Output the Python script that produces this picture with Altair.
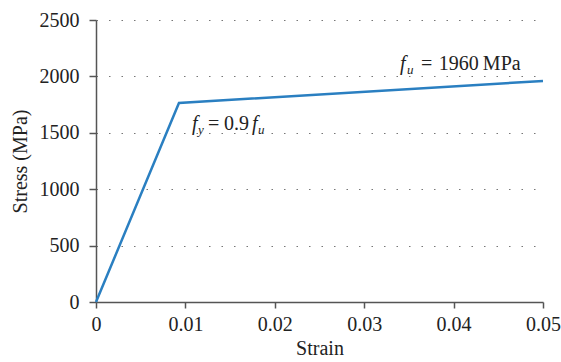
import altair as alt
import pandas as pd

# Bilinear stress-strain curve
strain = [0.0, 0.00928, 0.05]
stress = [0.0, 1764.0, 1960.0]

y_ticks = [0, 500, 1000, 1500, 2000, 2500]
x_ticks = [0, 0.01, 0.02, 0.03, 0.04, 0.05]

# Annotation pieces (text, strain, stress, kind)
ann_text = ["f", "y", "=", "0.9", "f", "u",
            "f", "u", "=", "1960\u2009MPa"]
ann_x = [0.01074, 0.01141, 0.01253, 0.01432, 0.01745, 0.01812,
         0.03400, 0.03478, 0.03635, 0.03835]
ann_y = [1525, 1489, 1525, 1525, 1525, 1489,
         2057, 2021, 2057, 2057]
ann_kind = ["it", "sub", "rm", "rm", "it", "sub",
            "it", "sub", "rm", "rm"]

FONT = "Liberation Serif"

df = pd.DataFrame({"strain": strain, "stress": stress})
ann = pd.DataFrame({"t": ann_text, "x": ann_x, "y": ann_y, "k": ann_kind})

xs = alt.Scale(domain=[0, 0.05], nice=False)
ys = alt.Scale(domain=[0, 2500], nice=False)

line = alt.Chart(df).mark_line(color="#2a7fc1", strokeWidth=2.5, clip=False).encode(
    x=alt.X("strain:Q", scale=xs, title="Strain",
            axis=alt.Axis(values=x_ticks, format="~g", grid=False, labelFlush=False,
                          domainColor="#555555", tickColor="#555555",
                          domainWidth=1.5, tickWidth=1.5, tickSize=6,
                          labelPadding=6, titlePadding=4)),
    y=alt.Y("stress:Q", scale=ys, title="Stress (MPa)",
            axis=alt.Axis(values=y_ticks, format="d", grid=True, gridDash=[1.5, 11],
                          gridColor="#777777", gridWidth=1.2, labelFlush=False,
                          domainColor="#555555", tickColor="#555555",
                          domainWidth=1.5, tickWidth=1.5, tickSize=7,
                          labelPadding=10, titlePadding=9)),
)

def piece(kind, size, style):
    return alt.Chart(ann).transform_filter(alt.datum.k == kind).mark_text(
        align="left", baseline="alphabetic", font=FONT, fontSize=size,
        fontStyle=style, color="#222222"
    ).encode(x=alt.X("x:Q", scale=xs), y=alt.Y("y:Q", scale=ys), text="t:N")

chart = alt.layer(
    line,
    piece("it", 20, "italic"),
    piece("sub", 13, "italic"),
    piece("rm", 20, "normal"),
).properties(
    width=447, height=282,
    autosize=alt.AutoSizeParams(type="none"),
    padding={"left": 96, "top": 20, "right": 18, "bottom": 60},
).configure_view(stroke=None).configure_axis(
    labelFont=FONT, titleFont=FONT, labelFontSize=20, titleFontSize=20,
    labelColor="#222222", titleColor="#222222", titleFontWeight="normal",
)

chart.save("out.html", embed_options={"renderer": "svg", "actions": False})
